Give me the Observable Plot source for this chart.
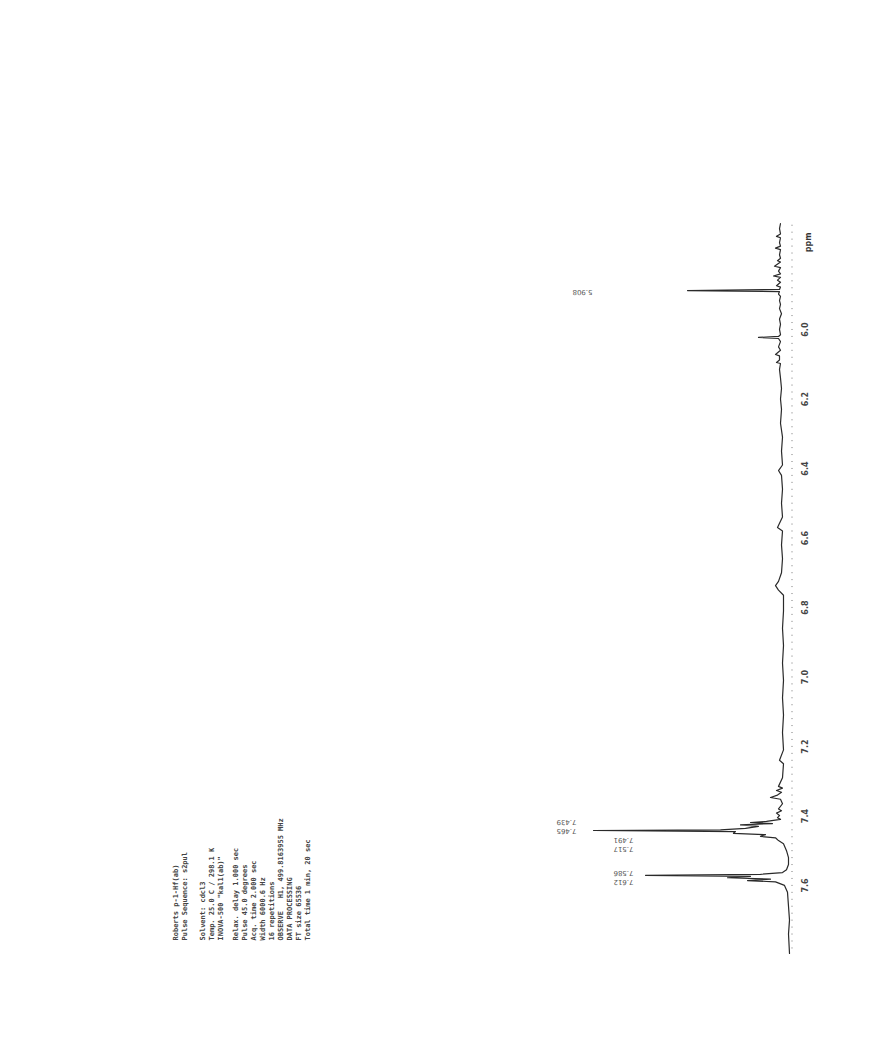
<!DOCTYPE html>
<html><head><meta charset="utf-8">
<script src="https://cdn.jsdelivr.net/npm/d3@7"></script>
<script src="https://cdn.jsdelivr.net/npm/@observablehq/plot@0.6"></script>
<style>
body{margin:0;background:#fff;}
#wrap{position:relative;width:889px;height:1057px;background:#fff;}
#wrap svg{position:absolute;left:0;top:0;background:transparent;}
</style></head><body><div id="wrap"></div>
<script>
// chemical shift (ppm) of each traced point of the spectrum
const shifts = [
5.715,5.730,5.745,5.752,5.756,5.770,5.780,5.786,5.790,5.805,5.815,5.822,5.826,5.838,5.842,5.852,5.860,5.866,5.870,5.878,
5.884,5.894,5.898,5.905,5.908,5.911,5.918,5.925,5.937,
5.948,5.960,5.975,5.990,6.005,6.020,6.035,6.040,6.043,6.046,6.055,6.070,6.080,6.092,6.096,6.108,6.115,6.118,6.135,6.160,
6.190,6.220,6.250,6.290,6.330,6.370,6.410,6.426,6.440,6.480,6.520,6.560,6.590,6.600,6.640,6.680,6.720,6.745,6.757,6.770,
6.785,6.830,6.880,6.930,6.980,7.030,7.080,7.130,7.180,7.230,7.260,7.270,7.310,7.335,7.340,7.347,7.352,7.360,7.367,7.372,
7.385,7.400,7.405,7.412,7.419,7.425,7.430,7.436,7.439,7.442,7.446,7.450,7.456,7.460,7.462,7.465,7.470,7.474,7.479,7.483,
7.491,7.500,7.520,7.540,7.560,7.575,7.583,7.588,7.591,7.594,7.598,7.602,7.606,7.610,7.620,7.640,7.680,7.720,7.760,7.816];
// signal intensity at each point (arbitrary units)
const intensities = [
0,1,0,4,0,1,0,5,0,1,0,3,0,6,0,2,0,7,0,3,
0,4,0,1,93,1,2,0,1,
0,1,-1,1,0,1,0,2,22,2,0,2,0,5,1,1,4,0,1,0,
-1,0,-1,0,-2,-1,-2,2,-1,-2,-1,-2,3,-2,-1,-2,-1,2,5,2,
-3,-3,-2,-3,-2,-3,-2,-3,-2,-3,1,-3,-2,2,-2,4,-1,3,10,0,
-2,2,-1,4,1,3,0,14,30,8,40,22,35,60,187,45,47,15,20,5,
2,-3,-6,-8,-8,-6,-2,20,135,30,53,10,33,5,-4,-7,-8,-9,-8,-9];

// axis tick labels (ppm)
const tickLabels = ["6.0","6.2","6.4","6.6","6.8","7.0","7.2","7.4","7.6"];
const tickValues = [6.0,6.2,6.4,6.6,6.8,7.0,7.2,7.4,7.6];

// peak labels
const peakLabelText = ["5.908","7.439","7.465","7.491","7.517","7.586","7.612"];
const peakLabelShift = [5.912,7.439,7.465,7.491,7.517,7.586,7.612];
const peakLabelLevel = [198,214,214,157,157,157,157];

// acquisition parameter block
const paramLines = [
"Roberts p-1-Hf(ab)",
"Pulse Sequence: s2pul",
"Solvent: cdcl3",
"Temp. 25.0 C / 298.1 K",
"INOVA-500 \"kal1(ab)\"",
"Relax. delay 1.000 sec",
"Pulse 45.0 degrees",
"Acq. time 2.000 sec",
"Width 6000.6 Hz",
"16 repetitions",
"OBSERVE   H1, 499.8163955 MHz",
"DATA PROCESSING",
"FT size 65536",
"Total time 1 min, 20 sec"];
const paramGroups = [0,0,1,1,1,2,2,2,2,2,2,2,2,2];
const groupGap = [0,1.0,1.7];

const spectrum = shifts.map((s,i)=>({ppm:s, h:intensities[i]}));
const ticks = tickValues.map((v,i)=>({ppm:v, label:tickLabels[i]}));
const peaks = peakLabelText.map((t,i)=>({label:t, ppm:peakLabelShift[i], level:peakLabelLevel[i]}));
const params = paramLines.map((t,i)=>({t, pos:i+groupGap[paramGroups[i]]}));
const minorTicks = d3.range(5.72, 7.815, 0.02);

const main = Plot.plot({
  width: 889, height: 1057,
  marginTop: 223, marginBottom: 104, marginLeft: 580, marginRight: 99,
  style: {background: "transparent"},
  x: {domain: [-10, 200], reverse: true, axis: null},
  y: {domain: [5.715, 7.816], reverse: true, axis: null},
  marks: [
    Plot.axisY(minorTicks, {anchor: "right", tickSize: 2, tickFormat: () => "", stroke: "#bbb", label: null}),
    Plot.text(ticks, {y: "ppm", text: "label", frameAnchor: "right", dx: 15, rotate: -90,
      fontSize: 8, fontWeight: "bold", fill: "#444", fontFamily: "DejaVu Sans"}),
    Plot.text(["ppm"], {frameAnchor: "top-right", dx: 15, dy: 9, rotate: -90,
      fontSize: 8, fontWeight: "bold", fill: "#333", fontFamily: "DejaVu Sans"}),
    Plot.line(spectrum, {x: "h", y: "ppm", stroke: "#2a2a2a", strokeWidth: 1.2, curve: "linear"}),
    Plot.text(peaks, {x: "level", y: "ppm", text: "label", rotate: 180, fontSize: 7,
      fill: "#555", fontFamily: "DejaVu Sans"})
  ]
});

const block = Plot.plot({
  width: 889, height: 1057,
  marginLeft: 177, marginRight: 889 - 312, marginTop: 780, marginBottom: 1057 - 940,
  style: {background: "transparent"},
  x: {domain: [0, 15], axis: null},
  marks: [
    Plot.text(params, {x: "pos", frameAnchor: "bottom", text: "t", rotate: -90, textAnchor: "start",
      fontSize: 7, fill: "#444", fontWeight: "bold", fontFamily: "DejaVu Sans Mono"})
  ]
});

const wrap = document.getElementById("wrap");
wrap.appendChild(main);
wrap.appendChild(block);
</script>
</body></html>
